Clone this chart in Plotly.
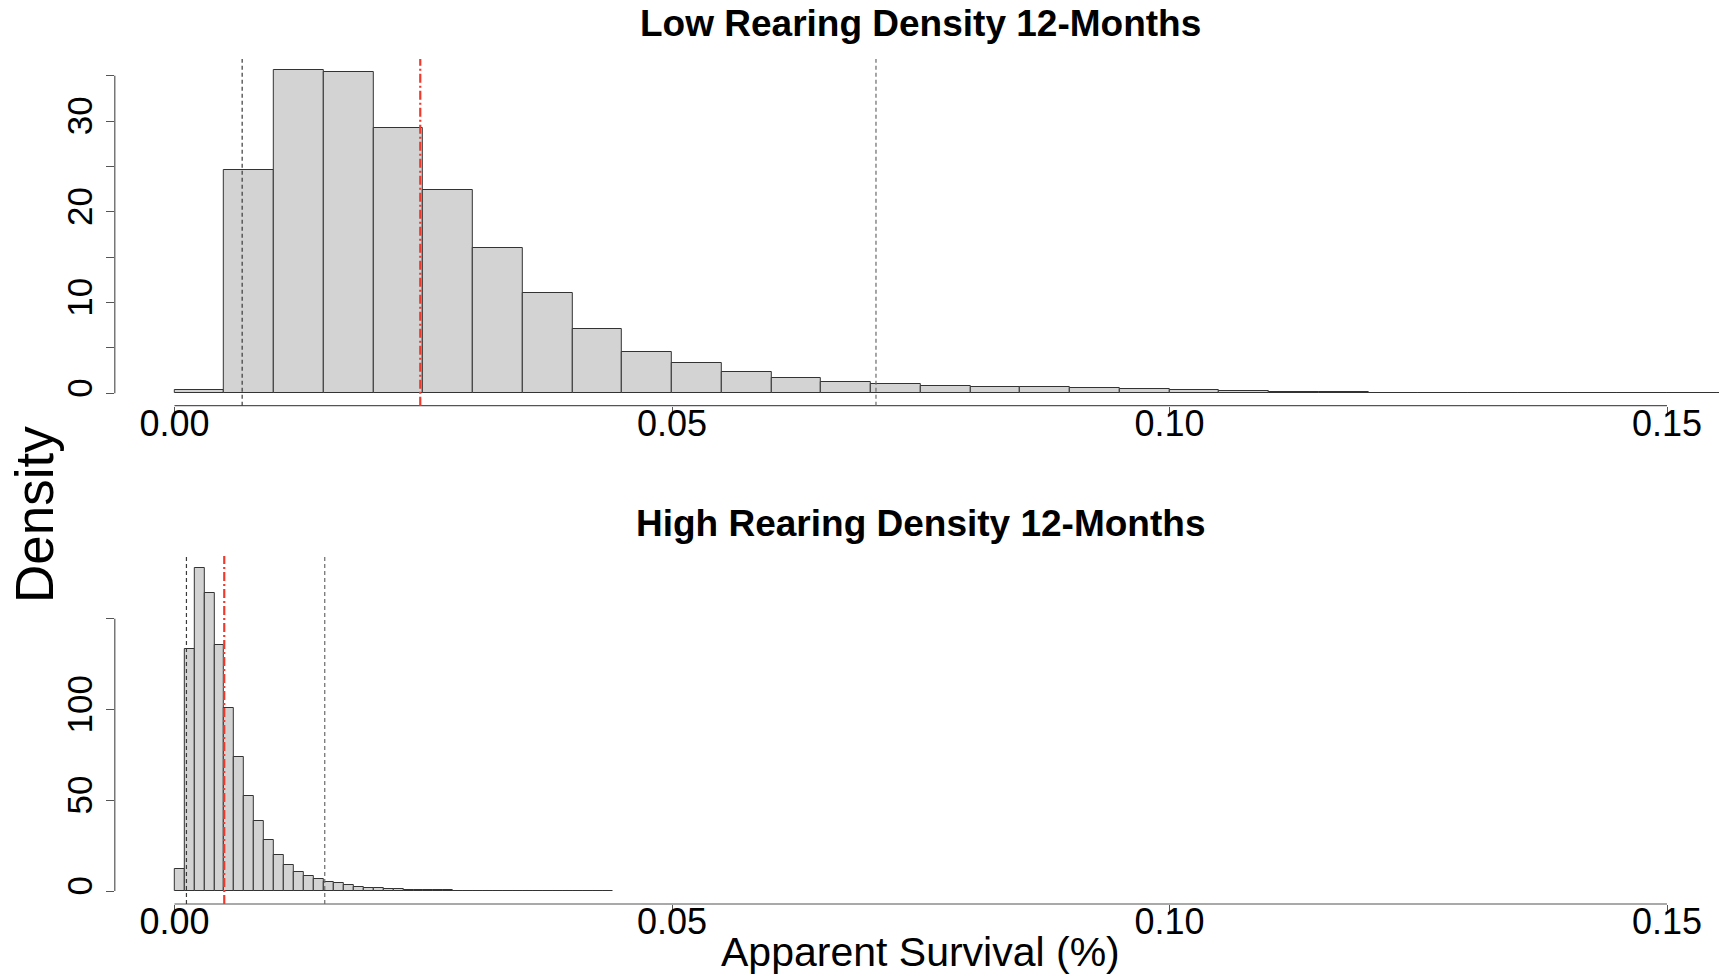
import numpy as np
import plotly.graph_objects as go

W, H = 1719, 977
FONT = "Liberation Sans, Arial, Helvetica, sans-serif"

# ---- Low rearing density: histogram densities, 0.005-wide bins starting at 0 ----
low_bin_width = 0.005
low_density = [0.40, 24.6, 35.6, 35.4, 29.2, 22.4, 16.0, 11.1, 7.06, 4.52,
               3.31, 2.39, 1.69, 1.29, 1.07, 0.81, 0.68, 0.66, 0.64, 0.51,
               0.33, 0.22, 0.15, 0.11, 0.07, 0.06, 0.05, 0.04, 0.03, 0.02,
               0.02, 0.02]
# lower bound, central estimate, upper bound
low_interval = [0.0068, 0.0247, 0.0705]

# ---- High rearing density: histogram densities, 0.001-wide bins starting at 0 ----
high_bin_width = 0.001
high_density = [11.9, 133.3, 177.7, 164.1, 135.7, 101.0, 73.6, 52.1, 38.7, 27.9,
                19.6, 14.3, 10.3, 8.3, 6.4, 5.1, 4.2, 3.1, 2.4, 1.8,
                1.5, 1.3, 0.9, 0.7, 0.55, 0.45, 0.38, 0.32, 0.27, 0.22,
                0.18, 0.15, 0.12, 0.10, 0.08, 0.07, 0.06, 0.05, 0.04, 0.04,
                0.03, 0.03, 0.03, 0.03]
high_interval = [0.0012, 0.0050, 0.0151]

x_tick_values = [0.0, 0.05, 0.10, 0.15]
x_tick_labels = ["0.00", "0.05", "0.10", "0.15"]
low_y_ticks = [0, 5, 10, 15, 20, 25, 30, 35]
low_y_labels = ["0", "", "10", "", "20", "", "30", ""]
high_y_ticks = [0, 50, 100, 150]
high_y_labels = ["0", "50", "100", ""]

titles = ["Low Rearing Density 12-Months", "High Rearing Density 12-Months"]
x_title = "Apparent Survival (%)"
y_title = "Density"

BAR_FILL = "#d3d3d3"
BAR_EDGE = "#333333"
AXIS_COL = "#555555"


def bin_centers(width, n):
    return (np.arange(n) + 0.5) * width


fig = go.Figure()
fig.add_trace(go.Bar(
    x=bin_centers(low_bin_width, len(low_density)), y=low_density,
    width=low_bin_width, marker=dict(color=BAR_FILL, line=dict(color=BAR_EDGE, width=1)),
    xaxis="x", yaxis="y", showlegend=False, hoverinfo="skip"))
fig.add_trace(go.Bar(
    x=bin_centers(high_bin_width, len(high_density)), y=high_density,
    width=high_bin_width, marker=dict(color=BAR_FILL, line=dict(color=BAR_EDGE, width=1)),
    xaxis="x2", yaxis="y2", showlegend=False, hoverinfo="skip"))

x_dom = [114.8 / W, 1.0]
x_range = [-0.006, -0.006 + (W - 114.8) / 9950.0]

axis_common = dict(showgrid=False, zeroline=False, showline=False,
                   ticks="outside", ticklen=8, tickwidth=1.2, tickcolor=AXIS_COL,
                   color="black")

fig.update_layout(
    width=W, height=H,
    margin=dict(l=0, r=0, t=0, b=0),
    paper_bgcolor="white", plot_bgcolor="white",
    bargap=0,
    font=dict(family=FONT, color="black"),
    xaxis=dict(domain=x_dom, range=x_range, anchor="y",
               tickvals=x_tick_values, ticktext=x_tick_labels,
               tickfont=dict(size=36), ticklabelstandoff=-22, **axis_common),
    yaxis=dict(domain=[1 - 405.7 / H, 1 - 59 / H], range=[-1.366, 36.84], anchor="x",
               tickvals=low_y_ticks, ticktext=low_y_labels, tickangle=-90,
               tickfont=dict(size=35), **axis_common),
    xaxis2=dict(domain=x_dom, range=x_range, anchor="y2",
                tickvals=x_tick_values, ticktext=x_tick_labels,
                tickfont=dict(size=36), ticklabelstandoff=-22, **axis_common),
    yaxis2=dict(domain=[1 - 904 / H, 1 - 556 / H], range=[-7.16, 184.5], anchor="x2",
                tickvals=high_y_ticks, ticktext=high_y_labels, tickangle=-90,
                tickfont=dict(size=35), **axis_common),
)

shapes = []
for xa, ya, ymax in [("x", "y", low_y_ticks[-1]), ("x2", "y2", high_y_ticks[-1])]:
    # axis lines spanning only the tick range
    shapes.append(dict(type="line", xref=xa, yref=f"{ya} domain",
                       x0=x_tick_values[0], x1=x_tick_values[-1], y0=0, y1=0,
                       line=dict(color=AXIS_COL, width=1.2)))
    shapes.append(dict(type="line", xref=f"{xa} domain", yref=ya,
                       x0=0, x1=0, y0=0, y1=ymax,
                       line=dict(color=AXIS_COL, width=1.2)))

for xa, ya, (lo, mid, hi) in [("x", "y", low_interval), ("x2", "y2", high_interval)]:
    shapes.append(dict(type="line", xref=xa, yref=f"{ya} domain", x0=lo, x1=lo, y0=0, y1=1,
                       line=dict(color="#3a3a3a", width=1.2, dash="4px,3px")))
    shapes.append(dict(type="line", xref=xa, yref=f"{ya} domain", x0=hi, x1=hi, y0=0, y1=1,
                       line=dict(color="#6a6a6a", width=1.2, dash="4px,3px")))
    shapes.append(dict(type="line", xref=xa, yref=f"{ya} domain", x0=mid, x1=mid, y0=0, y1=1,
                       line=dict(color="#f23a2c", width=2.2, dash="9px,3px,2px,3px")))
fig.update_layout(shapes=shapes)

center_x = (114.8 + 1726.7) / 2 / W
annotations = [
    dict(text=titles[0], x=center_x, y=1 - 24 / H, xref="paper", yref="paper",
         showarrow=False, xanchor="center", yanchor="middle",
         font=dict(family=FONT, size=37, color="black", weight="bold")),
    dict(text=titles[1], x=center_x, y=1 - 523 / H, xref="paper", yref="paper",
         showarrow=False, xanchor="center", yanchor="middle",
         font=dict(family=FONT, size=37, color="black", weight="bold")),
    dict(text=x_title, x=center_x, y=1 - 951.6 / H, xref="paper", yref="paper",
         showarrow=False, xanchor="center", yanchor="middle",
         font=dict(family=FONT, size=41, color="black")),
    dict(text=y_title, x=34 / W, y=1 - 515 / H, xref="paper", yref="paper",
         showarrow=False, xanchor="center", yanchor="middle", textangle=-90,
         font=dict(family=FONT, size=53, color="black")),
]
fig.update_layout(annotations=annotations)

fig.write_html("out.html")
